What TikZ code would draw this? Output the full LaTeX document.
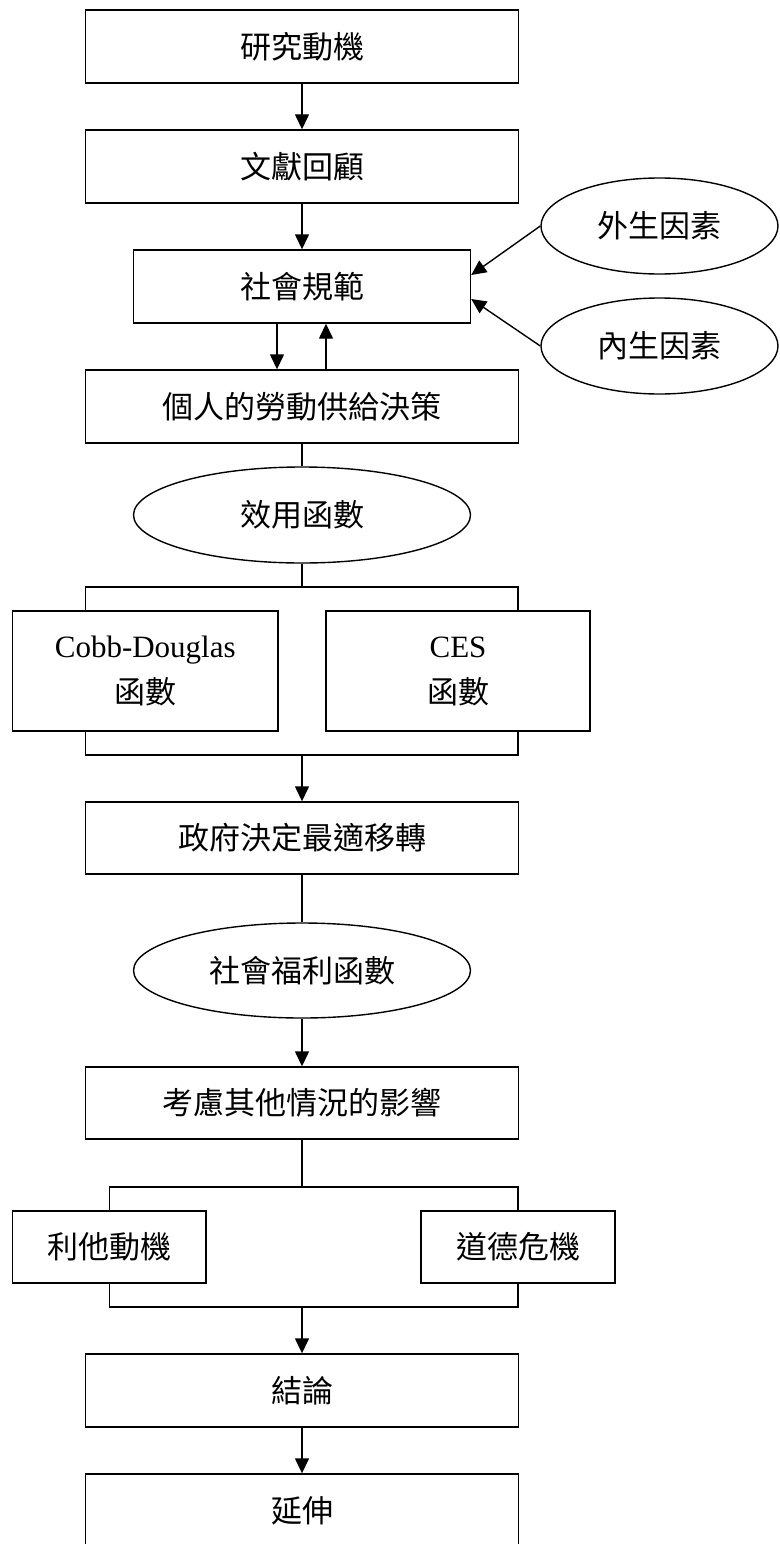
\documentclass[tikz,border=0pt]{standalone}
\usepackage{fontspec}
\setmainfont{Liberation Serif}
\newfontfamily\cjk{Noto Sans CJK TC}
\usetikzlibrary{arrows.meta,shapes.geometric,calc}
\begin{document}
\begin{tikzpicture}[x=1pt,y=-1pt,
  line width=1.4pt,
  box/.style={draw, rectangle, minimum height=73pt, inner sep=0pt, align=center, font=\cjk\fontsize{31}{46}\selectfont},
  oval/.style={draw, ellipse, inner sep=0pt, minimum height=96pt, font=\cjk\fontsize{31}{46}\selectfont},
  arr/.style={-{Triangle[length=15pt,width=14pt]}},
]
\useasboundingbox (0,0) rectangle (779,1544);
\node[box, minimum width=432.5pt] (b1) at (302,46.5) {研究動機};
\node[box, minimum width=432.5pt] (b2) at (302,166.5) {文獻回顧};
\node[box, minimum width=337pt] (b3) at (302,286.5) {社會規範};
\node[box, minimum width=432.5pt] (b4) at (302,406.5) {個人的勞動供給決策};
\node[oval, minimum width=337pt] (e1) at (302,515) {效用函數};
\node[oval, minimum width=237pt] (e3) at (659.5,226) {外生因素};
\node[oval, minimum width=237pt] (e4) at (659.5,346) {內生因素};
\node[box, minimum width=265.5pt, minimum height=120pt] (c1) at (145.25,671) {{\rmfamily Cobb-Douglas}\\函數};
\node[box, minimum width=264pt, minimum height=120pt] (c2) at (458,671) {{\rmfamily CES}\\函數};
\node[box, minimum width=432.5pt, minimum height=72pt] (b5) at (302,838) {政府決定最適移轉};
\node[oval, minimum width=337pt, minimum height=95pt] (e2) at (302,970.5) {社會福利函數};
\node[box, minimum width=432.5pt, minimum height=72pt] (b6) at (302,1103) {考慮其他情況的影響};
\node[box, minimum width=193.5pt, minimum height=72pt] (d1) at (109.25,1247) {利他動機};
\node[box, minimum width=194pt, minimum height=72pt] (d2) at (518,1247) {道德危機};
\node[box, minimum width=432.5pt] (b7) at (302,1390.5) {結論};
\node[box, minimum width=432.5pt] (b8) at (302,1510.5) {延伸};

\coordinate (j1) at (302,587);
\coordinate (j1l) at (85.5,587);
\coordinate (j1r) at (518,587);
\coordinate (k1) at (302,755);
\coordinate (k1l) at (85.5,755);
\coordinate (k1r) at (518,755);
\coordinate (j2) at (302,1187);
\coordinate (k2) at (302,1307);

\draw[arr] (b1.south) -- (b2.north);
\draw[arr] (b2.south) -- (b2.south |- b3.north);
\draw[arr] (e3.west) -- ([yshift=11.5pt]b3.east);
\draw[arr] (e4.west) -- ([yshift=-12.5pt]b3.east);
\draw[arr] ([xshift=-25pt]b3.south) -- ([xshift=-25pt]b3.south |- b4.north);
\draw[arr] ([xshift=24pt]b3.south |- b4.north) -- ([xshift=24pt]b3.south);
\draw (b4.south) -- (b4.south |- e1.north);
\draw (e1.south) -- (e1.south |- j1);
\draw (j1l |- c1.north) -- (j1l) -- (j1r) -- (j1r |- c2.north);
\draw (j1l |- c1.south) -- (k1l) -- (k1r) -- (j1r |- c2.south);
\draw[arr] (k1) -- (k1 |- b5.north);
\draw (b5.south) -- (b5.south |- e2.north);
\draw[arr] (e2.south) -- (e2.south |- b6.north);
\draw (b6.south) -- (j2);
\draw (d1.north) -- (d1.north |- j2) -- (d2.north |- j2) -- (d2.north);
\draw (d1.south) -- (d1.south |- k2) -- (d2.south |- k2) -- (d2.south);
\draw[arr] (k2) -- (k2 |- b7.north);
\draw[arr] (b7.south) -- (b8.north);
\end{tikzpicture}
\end{document}
